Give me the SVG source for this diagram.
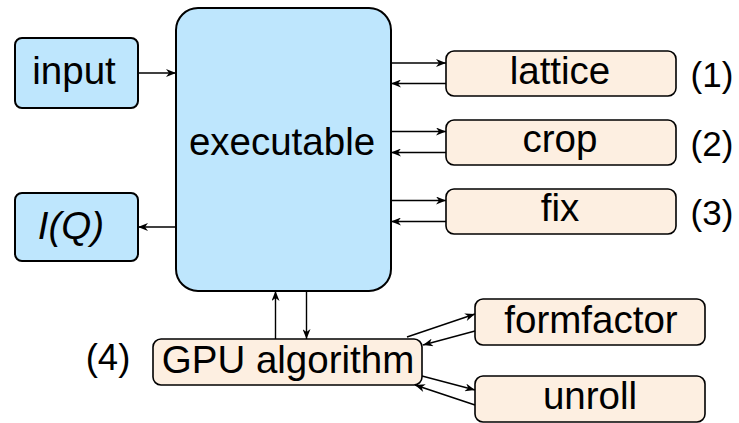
<svg xmlns="http://www.w3.org/2000/svg" width="739" height="423" viewBox="0 0 739 423">
<style>
.blue{fill:#bee6fd;stroke:#000;stroke-width:2}
.beige{fill:#fdefe1;stroke:#000;stroke-width:1.6}
text{font-family:"Liberation Sans",Arial,sans-serif;font-size:38.5px;fill:#000;text-anchor:middle}
.num{font-size:35px}
.c line{stroke:#000;stroke-width:1.4;fill:none;marker-end:url(#ah)}
</style>
<defs>
<marker id="ah" viewBox="0 0 10 8" refX="10" refY="4" markerWidth="11" markerHeight="8" markerUnits="userSpaceOnUse" orient="auto">
<path d="M0,0 L10,4 L0,8 L3,4 z" fill="#000"/>
</marker>
</defs>
<g id="executable"><rect class="blue" x="176" y="8" width="215" height="283" rx="22"/><text x="282" y="155">executable</text></g>
<g id="input"><rect class="blue" x="15" y="38" width="123" height="70" rx="7"/><text x="74" y="84">input</text></g>
<g id="IQ"><rect class="blue" x="15" y="193" width="123" height="68" rx="7"/><text x="71" y="239" font-style="italic">I(Q)</text></g>
<g id="lattice"><rect class="beige" x="446" y="51" width="230" height="45" rx="8"/><text x="560" y="84">lattice</text></g>
<g id="crop"><rect class="beige" x="446" y="120" width="230" height="45" rx="8"/><text x="560" y="152">crop</text></g>
<g id="fix"><rect class="beige" x="446" y="189" width="230" height="45" rx="8"/><text x="560" y="221">fix</text></g>
<g id="gpu"><rect class="beige" x="153" y="339" width="269" height="46" rx="8"/><text x="288" y="373">GPU algorithm</text></g>
<g id="formfactor"><rect class="beige" x="475" y="299" width="230" height="46" rx="8"/><text x="591" y="333">formfactor</text></g>
<g id="unroll"><rect class="beige" x="475" y="376" width="230" height="46" rx="8"/><text x="590" y="409">unroll</text></g>
<g id="labels">
<text class="num" x="712" y="86.5">(1)</text>
<text class="num" x="712" y="155.5">(2)</text>
<text class="num" x="712" y="225">(3)</text>
<text class="num" x="108" y="369.5" style="font-size:36.5px">(4)</text>
</g>
<g class="c" id="connectors">
<line x1="138" y1="73" x2="176" y2="73"/>
<line x1="176" y1="227" x2="138" y2="227"/>
<line x1="391" y1="63" x2="446" y2="63"/>
<line x1="446" y1="83.5" x2="391" y2="83.5"/>
<line x1="391" y1="131.5" x2="446" y2="131.5"/>
<line x1="446" y1="152.5" x2="391" y2="152.5"/>
<line x1="391" y1="200.5" x2="446" y2="200.5"/>
<line x1="446" y1="221.5" x2="391" y2="221.5"/>
<line x1="275.5" y1="339" x2="275.5" y2="291"/>
<line x1="306.5" y1="291" x2="306.5" y2="339"/>
<line x1="407" y1="337" x2="475" y2="314"/>
<line x1="475" y1="331" x2="423" y2="345"/>
<line x1="422" y1="376" x2="475" y2="390"/>
<line x1="475" y1="405" x2="415" y2="385"/>
</g>
</svg>
